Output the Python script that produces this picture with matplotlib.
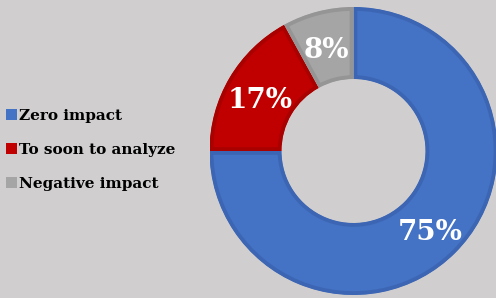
import matplotlib.pyplot as plt
from matplotlib.patches import Patch
from matplotlib.transforms import offset_copy

# chart data
labels = ['Zero impact', 'To soon to analyze', 'Negative impact']
shares = [75, 17, 8]
colors = ['#4472C4', '#C00000', '#A5A5A5']
edges = ['#3C66B3', '#A90000', '#959595']
bg = '#D0CECE'
serif = ['DejaVu Serif']

fig = plt.figure(figsize=(4.96, 2.98), dpi=100)
fig.patch.set_facecolor(bg)

# pie centred at about (354, 151) px with radius 144 px
cx, cy, r = 353.5, 151, 144
ax = fig.add_axes([(cx - r) / 496, (298 - cy - r) / 298, 2 * r / 496, 2 * r / 298])
ax.set_facecolor(bg)

wedges, texts, autotexts = ax.pie(
    shares, colors=colors, startangle=90, counterclock=False,
    autopct='%d%%', pctdistance=0.755,
    wedgeprops=dict(width=0.5, linewidth=5.5),
    textprops=dict(color='white', fontsize=20, fontweight='bold',
                   family=serif))
ax.set_xlim(-1, 1)
ax.set_ylim(-1, 1)
ax.set_aspect('equal')
ax.axis('off')

# darker border kept inside each wedge
for w, ec in zip(wedges, edges):
    w.set_edgecolor(ec)
    w.set_clip_on(True)
    w.set_clip_path(w.get_path(), w.get_transform())

shift = offset_copy(ax.transData, fig=fig, y=-5, units='dots')
for t in autotexts:
    t.set_transform(shift)

handles = [Patch(facecolor=c, edgecolor='none') for c in colors]
fig.legend(handles, labels, loc='upper left', bbox_to_anchor=(-0.015, 0.68),
           frameon=False, handlelength=0.7, handleheight=0.7,
           handletextpad=0.15, labelspacing=1.3,
           prop=dict(family=serif, weight='bold', size=11))

fig.savefig('out.png', dpi=100, facecolor=bg)
